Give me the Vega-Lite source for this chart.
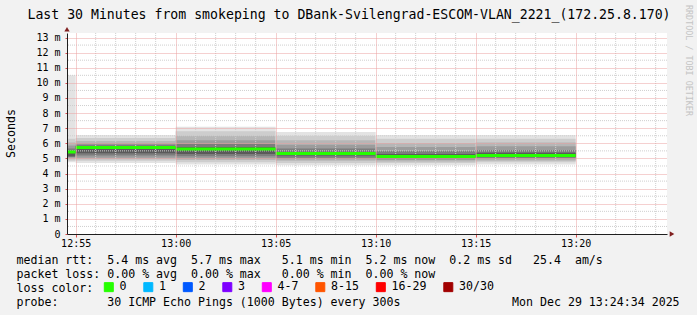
{
  "$schema": "https://vega.github.io/schema/vega-lite/v6.json",
  "width": 600,
  "height": 201,
  "autosize": {"type": "none"},
  "padding": {"left": 67, "top": 33, "right": 30, "bottom": 81},
  "background": "#f2f2f2",
  "config": {"view": {"stroke": null, "fill": "white"}, "font": "DejaVu Sans Mono"},
  "title": {
    "text": "Last 30 Minutes from smokeping to DBank-Svilengrad-ESCOM-VLAN_2221_(172.25.8.170)",
    "font": "DejaVu Sans Mono", "fontSize": 13.2, "fontWeight": "normal", "color": "black",
    "anchor": "middle", "frame": "group", "dx": -18, "dy": 14, "baseline": "alphabetic", "offset": -13.6
  },
  "datasets": {
    "smoke": [
      {"t0": "2025-12-29T12:50:00", "t1": "2025-12-29T12:55:00", "level": 1, "lo": 4.75, "hi": 10.5},
      {"t0": "2025-12-29T12:50:00", "t1": "2025-12-29T12:55:00", "level": 2, "lo": 4.85, "hi": 6.3},
      {"t0": "2025-12-29T12:50:00", "t1": "2025-12-29T12:55:00", "level": 3, "lo": 4.95, "hi": 6.05},
      {"t0": "2025-12-29T12:50:00", "t1": "2025-12-29T12:55:00", "level": 4, "lo": 5.05, "hi": 5.85},
      {"t0": "2025-12-29T12:50:00", "t1": "2025-12-29T12:55:00", "level": 5, "lo": 5.1, "hi": 5.65},
      {"t0": "2025-12-29T12:50:00", "t1": "2025-12-29T12:55:00", "level": 6, "lo": 5.15, "hi": 5.5},
      {"t0": "2025-12-29T12:55:00", "t1": "2025-12-29T13:00:00", "level": 1, "lo": 4.7, "hi": 6.55},
      {"t0": "2025-12-29T12:55:00", "t1": "2025-12-29T13:00:00", "level": 2, "lo": 4.85, "hi": 6.35},
      {"t0": "2025-12-29T12:55:00", "t1": "2025-12-29T13:00:00", "level": 3, "lo": 4.95, "hi": 6.15},
      {"t0": "2025-12-29T12:55:00", "t1": "2025-12-29T13:00:00", "level": 4, "lo": 5.05, "hi": 6.0},
      {"t0": "2025-12-29T12:55:00", "t1": "2025-12-29T13:00:00", "level": 5, "lo": 5.2, "hi": 5.9},
      {"t0": "2025-12-29T12:55:00", "t1": "2025-12-29T13:00:00", "level": 6, "lo": 5.35, "hi": 5.8},
      {"t0": "2025-12-29T13:00:00", "t1": "2025-12-29T13:05:00", "level": 1, "lo": 4.6, "hi": 7.1},
      {"t0": "2025-12-29T13:00:00", "t1": "2025-12-29T13:05:00", "level": 2, "lo": 4.75, "hi": 6.8},
      {"t0": "2025-12-29T13:00:00", "t1": "2025-12-29T13:05:00", "level": 3, "lo": 4.9, "hi": 6.5},
      {"t0": "2025-12-29T13:00:00", "t1": "2025-12-29T13:05:00", "level": 4, "lo": 5.0, "hi": 6.2},
      {"t0": "2025-12-29T13:00:00", "t1": "2025-12-29T13:05:00", "level": 5, "lo": 5.15, "hi": 5.95},
      {"t0": "2025-12-29T13:00:00", "t1": "2025-12-29T13:05:00", "level": 6, "lo": 5.3, "hi": 5.75},
      {"t0": "2025-12-29T13:05:00", "t1": "2025-12-29T13:10:00", "level": 1, "lo": 4.55, "hi": 6.75},
      {"t0": "2025-12-29T13:05:00", "t1": "2025-12-29T13:10:00", "level": 2, "lo": 4.7, "hi": 6.5},
      {"t0": "2025-12-29T13:05:00", "t1": "2025-12-29T13:10:00", "level": 3, "lo": 4.85, "hi": 6.2},
      {"t0": "2025-12-29T13:05:00", "t1": "2025-12-29T13:10:00", "level": 4, "lo": 4.95, "hi": 5.9},
      {"t0": "2025-12-29T13:05:00", "t1": "2025-12-29T13:10:00", "level": 5, "lo": 5.05, "hi": 5.65},
      {"t0": "2025-12-29T13:05:00", "t1": "2025-12-29T13:10:00", "level": 6, "lo": 5.2, "hi": 5.45},
      {"t0": "2025-12-29T13:10:00", "t1": "2025-12-29T13:15:00", "level": 1, "lo": 4.55, "hi": 6.55},
      {"t0": "2025-12-29T13:10:00", "t1": "2025-12-29T13:15:00", "level": 2, "lo": 4.7, "hi": 6.3},
      {"t0": "2025-12-29T13:10:00", "t1": "2025-12-29T13:15:00", "level": 3, "lo": 4.8, "hi": 6.0},
      {"t0": "2025-12-29T13:10:00", "t1": "2025-12-29T13:15:00", "level": 4, "lo": 4.9, "hi": 5.75},
      {"t0": "2025-12-29T13:10:00", "t1": "2025-12-29T13:15:00", "level": 5, "lo": 4.98, "hi": 5.5},
      {"t0": "2025-12-29T13:10:00", "t1": "2025-12-29T13:15:00", "level": 6, "lo": 5.05, "hi": 5.3},
      {"t0": "2025-12-29T13:15:00", "t1": "2025-12-29T13:20:00", "level": 1, "lo": 4.6, "hi": 6.55},
      {"t0": "2025-12-29T13:15:00", "t1": "2025-12-29T13:20:00", "level": 2, "lo": 4.75, "hi": 6.3},
      {"t0": "2025-12-29T13:15:00", "t1": "2025-12-29T13:20:00", "level": 3, "lo": 4.85, "hi": 6.05},
      {"t0": "2025-12-29T13:15:00", "t1": "2025-12-29T13:20:00", "level": 4, "lo": 4.95, "hi": 5.8},
      {"t0": "2025-12-29T13:15:00", "t1": "2025-12-29T13:20:00", "level": 5, "lo": 5.03, "hi": 5.55},
      {"t0": "2025-12-29T13:15:00", "t1": "2025-12-29T13:20:00", "level": 6, "lo": 5.1, "hi": 5.38}
    ],
    "median": [
      {"t0": "2025-12-29T12:50:00", "t1": "2025-12-29T12:55:00", "rtt": 5.43, "loss": "0"},
      {"t0": "2025-12-29T12:55:00", "t1": "2025-12-29T13:00:00", "rtt": 5.73, "loss": "0"},
      {"t0": "2025-12-29T13:00:00", "t1": "2025-12-29T13:05:00", "rtt": 5.62, "loss": "0"},
      {"t0": "2025-12-29T13:05:00", "t1": "2025-12-29T13:10:00", "rtt": 5.33, "loss": "0"},
      {"t0": "2025-12-29T13:10:00", "t1": "2025-12-29T13:15:00", "rtt": 5.13, "loss": "0"},
      {"t0": "2025-12-29T13:15:00", "t1": "2025-12-29T13:20:00", "rtt": 5.19, "loss": "0"}
    ],
    "minorx": [
      {"t": "2025-12-29T12:56:00"}, {"t": "2025-12-29T12:57:00"}, {"t": "2025-12-29T12:58:00"}, {"t": "2025-12-29T12:59:00"},
      {"t": "2025-12-29T13:01:00"}, {"t": "2025-12-29T13:02:00"}, {"t": "2025-12-29T13:03:00"}, {"t": "2025-12-29T13:04:00"},
      {"t": "2025-12-29T13:06:00"}, {"t": "2025-12-29T13:07:00"}, {"t": "2025-12-29T13:08:00"}, {"t": "2025-12-29T13:09:00"},
      {"t": "2025-12-29T13:11:00"}, {"t": "2025-12-29T13:12:00"}, {"t": "2025-12-29T13:13:00"}, {"t": "2025-12-29T13:14:00"},
      {"t": "2025-12-29T13:16:00"}, {"t": "2025-12-29T13:17:00"}, {"t": "2025-12-29T13:18:00"}, {"t": "2025-12-29T13:19:00"},
      {"t": "2025-12-29T13:21:00"}, {"t": "2025-12-29T13:22:00"}, {"t": "2025-12-29T13:23:00"}, {"t": "2025-12-29T13:24:00"}
    ],
    "minory": [
      {"v": 0.5}, {"v": 1.5}, {"v": 2.5}, {"v": 3.5}, {"v": 4.5}, {"v": 5.5}, {"v": 6.5},
      {"v": 7.5}, {"v": 8.5}, {"v": 9.5}, {"v": 10.5}, {"v": 11.5}, {"v": 12.5}
    ]
  },
  "layer": [
    {
      "data": {"name": "smoke"},
      "mark": {"type": "rect", "clip": true, "strokeWidth": 0},
      "encoding": {
        "x": {
          "field": "t0", "type": "temporal",
          "scale": {"domain": [
            {"year": 2025, "month": 12, "date": 29, "hours": 12, "minutes": 54, "seconds": 34},
            {"year": 2025, "month": 12, "date": 29, "hours": 13, "minutes": 24, "seconds": 34}
          ]},
          "axis": {
            "orient": "bottom",
            "values": [
              {"year": 2025, "month": 12, "date": 29, "hours": 12, "minutes": 55},
              {"year": 2025, "month": 12, "date": 29, "hours": 13, "minutes": 0},
              {"year": 2025, "month": 12, "date": 29, "hours": 13, "minutes": 5},
              {"year": 2025, "month": 12, "date": 29, "hours": 13, "minutes": 10},
              {"year": 2025, "month": 12, "date": 29, "hours": 13, "minutes": 15},
              {"year": 2025, "month": 12, "date": 29, "hours": 13, "minutes": 20}
            ],
            "format": "%H:%M",
            "grid": true, "gridDash": [1, 1], "gridWidth": 1, "gridColor": "#eba0a0",
            "domainColor": "#1f1f1f", "domainWidth": 1,
            "tickColor": "#de4f4f", "tickSize": 3,
            "labelFont": "DejaVu Sans Mono", "labelFontSize": 10, "labelColor": "black",
            "labelPadding": 1, "labelFlush": false, "labelOverlap": false,
            "zindex": 1,
            "title": [
              "median rtt:\u00a0\u00a05.4 ms avg\u00a0\u00a05.7 ms max\u00a0\u00a0\u00a05.1 ms min\u00a0\u00a05.2 ms now\u00a0\u00a00.2 ms sd\u00a0\u00a0\u00a025.4\u00a0\u00a0am/s",
              "packet loss:\u00a00.00 % avg\u00a0\u00a00.00 % max\u00a0\u00a0\u00a00.00 % min\u00a0\u00a00.00 % now",
              "loss color:",
              "probe:\u00a0\u00a0\u00a0\u00a0\u00a0\u00a0\u00a030 ICMP Echo Pings (1000 Bytes) every 300s\u00a0\u00a0\u00a0\u00a0\u00a0\u00a0\u00a0\u00a0\u00a0\u00a0\u00a0\u00a0\u00a0\u00a0\u00a0\u00a0Mon Dec 29 13:24:34 2025"
            ],
            "titleFont": "DejaVu Sans Mono", "titleFontSize": 11.6, "titleFontWeight": "normal", "titleColor": "black",
            "titleAlign": "left", "titleAnchor": "start", "titleX": -51, "titleY": 29,
            "titleBaseline": "alphabetic", "titleLineHeight": 14
          }
        },
        "x2": {"field": "t1"},
        "y": {
          "field": "lo", "type": "quantitative",
          "scale": {"domain": [0, 13.3], "nice": false, "zero": true},
          "axis": {
            "values": [0, 1, 2, 3, 4, 5, 6, 7, 8, 9, 10, 11, 12, 13],
            "grid": true, "gridDash": [1, 1], "gridWidth": 1, "gridColor": "#eba0a0",
            "domainColor": "#1f1f1f", "domainWidth": 1,
            "tickColor": "#de4f4f", "tickSize": 2, "labelPadding": 5,
            "labelExpr": "datum.value == 0 ? '0  ' : datum.value + ' m'",
            "labelFont": "DejaVu Sans Mono", "labelFontSize": 10, "labelColor": "black",
            "labelOverlap": false, "labelFlush": false,
            "zindex": 1,
            "title": "Seconds",
            "titleFont": "DejaVu Sans Mono", "titleFontSize": 11.6, "titleFontWeight": "normal", "titleColor": "black",
            "titleX": -56, "titleY": 100, "titleAngle": -90, "titleAlign": "center", "titleBaseline": "middle"
          }
        },
        "y2": {"field": "hi"},
        "fill": {
          "field": "level", "type": "ordinal",
          "scale": {"domain": [1, 2, 3, 4, 5, 6], "range": ["#e3e3e3", "#cdcdcd", "#b6b6b6", "#9c9c9c", "#7d7d7d", "#5a5a5a"]},
          "legend": null
        }
      }
    },
    {
      "data": {"name": "minorx"},
      "mark": {"type": "rule", "color": "#cfcfcf", "strokeWidth": 1, "strokeDash": [1, 1]},
      "encoding": {"x": {"field": "t", "type": "temporal"}}
    },
    {
      "data": {"name": "minory"},
      "mark": {"type": "rule", "color": "#cfcfcf", "strokeWidth": 1, "strokeDash": [1, 1]},
      "encoding": {"y": {"field": "v", "type": "quantitative", "axis": null}}
    },
    {
      "data": {"name": "median"},
      "mark": {"type": "rule", "clip": true, "strokeWidth": 3, "strokeCap": "butt"},
      "encoding": {
        "x": {"field": "t0", "type": "temporal"},
        "x2": {"field": "t1"},
        "y": {
          "field": "rtt", "type": "quantitative",
          "axis": {
            "orient": "right", "labels": false, "ticks": false, "domain": false, "grid": false,
            "title": "RRDTOOL / TOBI OETIKER",
            "titleFont": "DejaVu Sans Mono", "titleFontSize": 8.4, "titleFontWeight": "normal", "titleColor": "#c4c4c4",
            "titleAngle": 90, "titleX": 21, "titleY": 27, "titleAlign": "center", "titleBaseline": "middle"
          }
        },
        "color": {
          "field": "loss", "type": "nominal",
          "scale": {
            "domain": ["0", "1", "2", "3", "4-7", "8-15", "16-29", "30/30"],
            "range": ["#26ff00", "#00b8ff", "#0059ff", "#7e00ff", "#ff00ff", "#ff5500", "#ff0000", "#a10000"]
          },
          "legend": {
            "orient": "none", "legendX": 36, "legendY": 248, "direction": "horizontal", "padding": 0,
            "title": null,
            "labelFont": "DejaVu Sans Mono", "labelFontSize": 11.6, "labelColor": "black",
            "symbolType": "square", "symbolSize": 81, "symbolStrokeColor": "black", "symbolStrokeWidth": 1,
            "labelOffset": 5, "columnPadding": 14.5,
            "encode": {"symbols": {"update": {"fill": {"scale": "color", "field": "value"}, "stroke": {"value": "black"}, "strokeWidth": {"value": 1}, "opacity": {"value": 1}}}}
          }
        }
      }
    },
    {
      "data": {"values": [{}]},
      "mark": {"type": "point", "shape": "triangle-up", "filled": true, "color": "#801f1f", "size": 28, "opacity": 1},
      "encoding": {
        "x": {"datum": {"year": 2025, "month": 12, "date": 29, "hours": 12, "minutes": 54, "seconds": 34}, "type": "temporal"},
        "y": {"datum": 13.55, "type": "quantitative", "axis": null}
      }
    },
    {
      "data": {"values": [{}]},
      "mark": {"type": "point", "shape": "triangle-right", "filled": true, "color": "#801f1f", "size": 28, "opacity": 1},
      "encoding": {
        "x": {"datum": {"year": 2025, "month": 12, "date": 29, "hours": 13, "minutes": 24, "seconds": 49}, "type": "temporal"},
        "y": {"datum": 0, "type": "quantitative", "axis": null}
      }
    }
  ],
  "resolve": {"axis": {"y": "independent"}}
}
